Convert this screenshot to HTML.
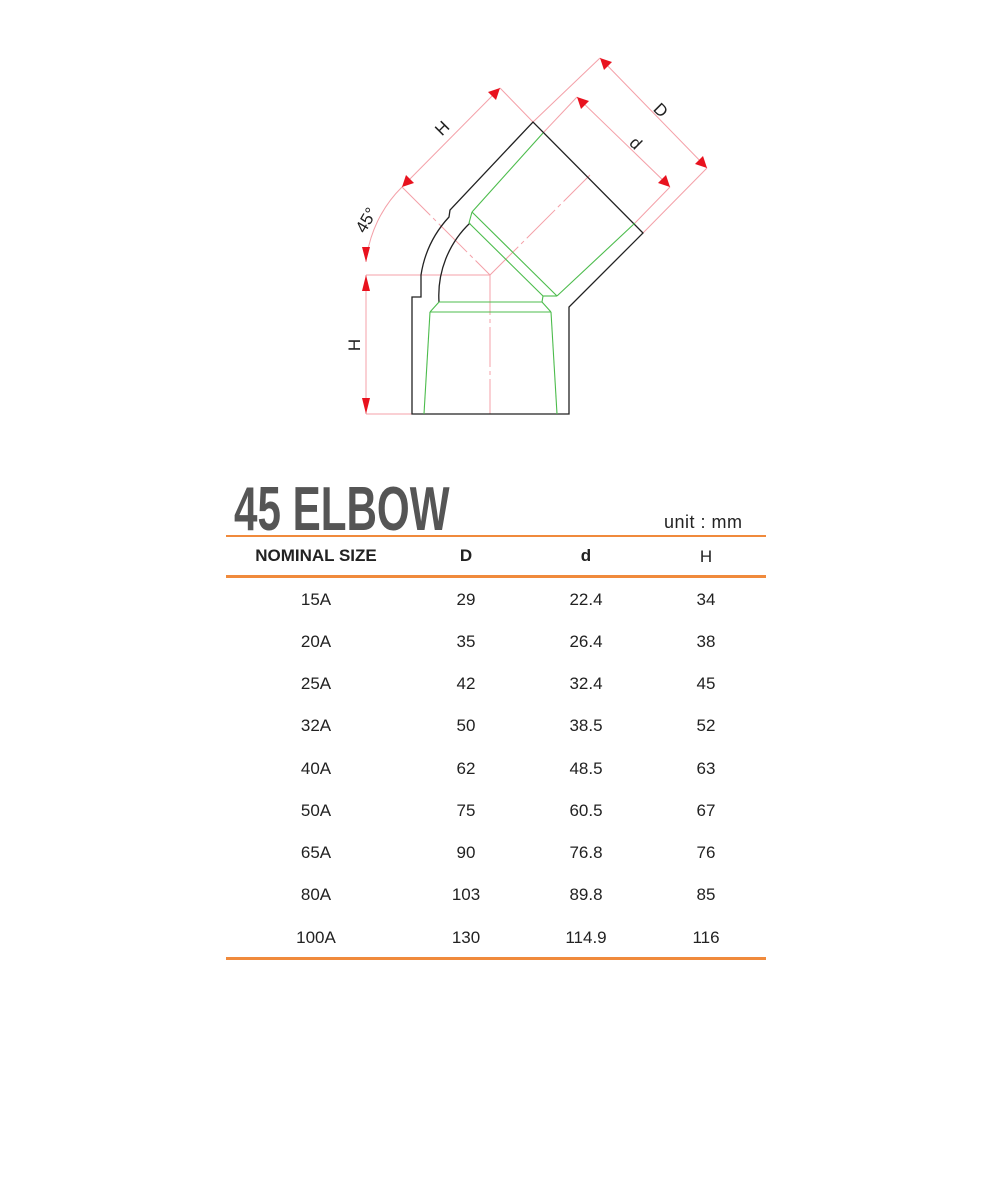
<!DOCTYPE html>
<html><head><meta charset="utf-8"><style>
body{margin:0;width:992px;height:1186px;background:#fff;position:relative;font-family:"Liberation Sans","Noto Sans CJK KR",sans-serif;overflow:hidden}
.t{position:absolute;color:#222;font-size:17px;transform:translateX(-50%);white-space:nowrap}
</style></head><body>
<svg width="992" height="440" style="position:absolute;left:0;top:0" xmlns="http://www.w3.org/2000/svg">
<g stroke="#f4a0a8" stroke-width="1" fill="none">
<line x1="366" y1="275" x2="366" y2="414"/>
<line x1="366" y1="414" x2="412" y2="414"/>
<line x1="366" y1="275" x2="490" y2="275"/>
<line x1="490" y1="275" x2="490" y2="414" stroke-dasharray="40 4 4 4"/>
<path d="M366,262 A124,124 0 0 1 402,187"/>
<line x1="402" y1="187" x2="500" y2="88"/>
<line x1="500" y1="88" x2="533" y2="122"/>
<line x1="402" y1="187" x2="490" y2="275" stroke-dasharray="40 4 4 4"/>
<line x1="490" y1="275" x2="590" y2="175" stroke-dasharray="40 4 4 4"/>
<line x1="600" y1="58" x2="707" y2="168"/>
<line x1="533" y1="122" x2="600" y2="58"/>
<line x1="643" y1="233" x2="707" y2="168"/>
<line x1="577" y1="97" x2="670" y2="187"/>
<line x1="543" y1="133" x2="577" y2="97"/>
<line x1="635" y1="223" x2="670" y2="187"/>
</g>
<g fill="#e8121e">
<polygon points="366,275 362,291 370,291"/><polygon points="366,414 362,398 370,398"/>
<polygon points="366,262 362,247 370,247"/>
<polygon points="402,187 406,175 414,183"/>
<polygon points="500,88 488,92 496,100"/>
<polygon points="600,58 604,70 612,62"/><polygon points="707,168 695,164 703,156"/>
<polygon points="577,97 581,109 589,101"/><polygon points="670,187 658,183 666,175"/>
</g>
<g stroke="#222" stroke-width="1.3" fill="none">
<path d="M412,414 L412,297 L421,297 L421,275 A110,110 0 0 1 449,217 L450,210 L533,122 L643,233 L569,307 L569,414 Z"/>
<path d="M439,302 A100,100 0 0 1 470,223"/>
</g>
<g stroke="#4cbc4c" stroke-width="1.1" fill="none">
<line x1="472" y1="212" x2="543" y2="133"/>
<line x1="472" y1="212" x2="557" y2="296"/>
<line x1="469" y1="223" x2="543" y2="296"/>
<line x1="472" y1="212" x2="469" y2="223"/>
<line x1="635" y1="223" x2="557" y2="296"/>
<line x1="543" y1="296" x2="557" y2="296"/>
<line x1="543" y1="296" x2="542" y2="302"/>
<line x1="439" y1="302" x2="542" y2="302"/>
<line x1="430" y1="312" x2="551" y2="312"/>
<line x1="439" y1="302" x2="430" y2="312"/>
<line x1="542" y1="302" x2="551" y2="312"/>
<line x1="430" y1="312" x2="424" y2="414"/>
<line x1="551" y1="312" x2="557" y2="414"/>
</g>
<g font-family="Liberation Sans,sans-serif" font-size="17" fill="#222">
<text x="353" y="352" transform="rotate(-90 353 345)" text-anchor="middle">H</text>
<text x="442" y="134" transform="rotate(-45 442 128)" text-anchor="middle">H</text>
<text x="366" y="226" transform="rotate(-60 366 220)" text-anchor="middle">45°</text>
<text x="661" y="116" transform="rotate(45 661 110)" text-anchor="middle">D</text>
<text x="636" y="149" transform="rotate(45 636 143)" text-anchor="middle">d</text>
</g>
</svg>
<div style="position:absolute;left:234px;top:474px;font-size:62px;font-weight:bold;color:#555;transform:scaleX(0.68);transform-origin:left top">45 ELBOW</div>
<div style="position:absolute;left:664px;top:512px;font-size:18px;color:#222;letter-spacing:0.5px">unit : mm</div>
<div style="position:absolute;left:226px;top:535px;width:540px;height:2px;background:#f08a3c"></div>
<div style="position:absolute;left:226px;top:575px;width:540px;height:3px;background:#f08a3c"></div>
<div style="position:absolute;left:226px;top:957px;width:540px;height:3px;background:#f08a3c"></div>
<div class="t" style="left:316px;top:546px;font-weight:bold">NOMINAL SIZE</div>
<div class="t" style="left:466px;top:546px;font-weight:bold">D</div>
<div class="t" style="left:586px;top:546px;font-weight:bold">d</div>
<div class="t" style="left:706px;top:547px">H</div>
<div class="t" style="left:316px;top:590px">15A</div><div class="t" style="left:466px;top:590px">29</div><div class="t" style="left:586px;top:590px">22.4</div><div class="t" style="left:706px;top:590px">34</div>
<div class="t" style="left:316px;top:632px">20A</div><div class="t" style="left:466px;top:632px">35</div><div class="t" style="left:586px;top:632px">26.4</div><div class="t" style="left:706px;top:632px">38</div>
<div class="t" style="left:316px;top:674px">25A</div><div class="t" style="left:466px;top:674px">42</div><div class="t" style="left:586px;top:674px">32.4</div><div class="t" style="left:706px;top:674px">45</div>
<div class="t" style="left:316px;top:716px">32A</div><div class="t" style="left:466px;top:716px">50</div><div class="t" style="left:586px;top:716px">38.5</div><div class="t" style="left:706px;top:716px">52</div>
<div class="t" style="left:316px;top:759px">40A</div><div class="t" style="left:466px;top:759px">62</div><div class="t" style="left:586px;top:759px">48.5</div><div class="t" style="left:706px;top:759px">63</div>
<div class="t" style="left:316px;top:801px">50A</div><div class="t" style="left:466px;top:801px">75</div><div class="t" style="left:586px;top:801px">60.5</div><div class="t" style="left:706px;top:801px">67</div>
<div class="t" style="left:316px;top:843px">65A</div><div class="t" style="left:466px;top:843px">90</div><div class="t" style="left:586px;top:843px">76.8</div><div class="t" style="left:706px;top:843px">76</div>
<div class="t" style="left:316px;top:885px">80A</div><div class="t" style="left:466px;top:885px">103</div><div class="t" style="left:586px;top:885px">89.8</div><div class="t" style="left:706px;top:885px">85</div>
<div class="t" style="left:316px;top:928px">100A</div><div class="t" style="left:466px;top:928px">130</div><div class="t" style="left:586px;top:928px">114.9</div><div class="t" style="left:706px;top:928px">116</div>
</body></html>
